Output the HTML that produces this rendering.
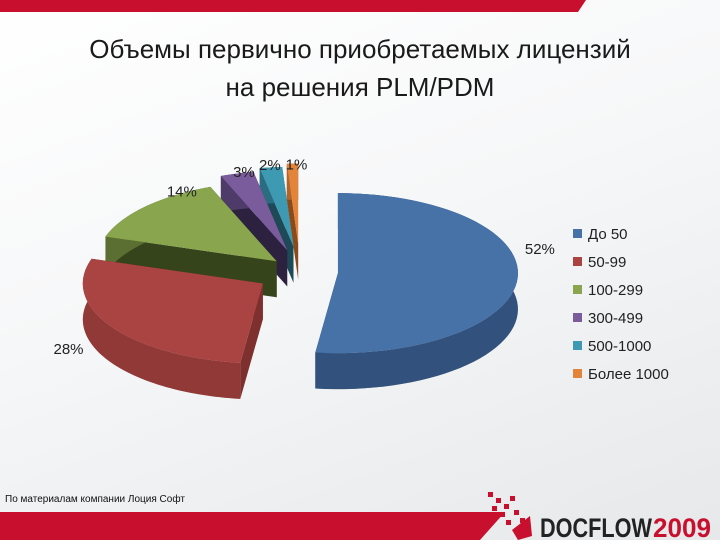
<!DOCTYPE html>
<html><head><meta charset="utf-8">
<style>
html,body{margin:0;padding:0;}
body{width:720px;height:540px;overflow:hidden;position:relative;font-family:"Liberation Sans","Noto Sans CJK SC",sans-serif;background:linear-gradient(160deg,#ffffff 0%,#f6f7f8 45%,#e6e8ea 100%);}
#title{position:absolute;left:0;top:30px;width:720px;text-align:center;font-size:26px;line-height:38px;color:#1a1a1a;}
</style></head><body>
<svg width="720" height="540" style="position:absolute;left:0;top:0">
  <polygon points="0,0 586,0 578,12 0,12" fill="#c8102e"/>
  <polygon points="0,512 505,512 480,540 0,540" fill="#c8102e"/>
  <g>
    <g fill="#c8102e">
      <rect x="488" y="492" width="5" height="5"/><rect x="496" y="498" width="5" height="5"/><rect x="504" y="504" width="5" height="5"/>
      <rect x="492" y="506" width="5" height="5"/><rect x="500" y="512" width="5" height="5"/><rect x="510" y="496" width="5" height="5"/>
      <rect x="514" y="510" width="5" height="5"/><rect x="506" y="520" width="5" height="5"/><rect x="520" y="518" width="5" height="5"/>
      <polygon points="512,530 530,516 532,536 518,540"/>
    </g>
    <text x="540" y="537" font-family="Liberation Sans" font-weight="bold" font-size="27" textLength="112" lengthAdjust="spacingAndGlyphs" fill="#222">DOCFLOW</text>
    <text x="653" y="537" font-family="Liberation Sans" font-weight="bold" font-size="27" textLength="58" lengthAdjust="spacingAndGlyphs" fill="#c8102e">2009</text>
  </g>
  <text x="5" y="502" font-size="10" fill="#111">По материалам компании Лоция Софт</text>
</svg>
<div id="title">Объемы первично приобретаемых лицензий<br>на решения PLM/PDM</div>
<svg id="chart" width="720" height="540" style="position:absolute;left:0;top:0"></svg>
<script>
const categories = ["До 50","50-99","100-299","300-499","500-1000","Более 1000"];
const values = [52,28,14,3,2,1];
const labels = ["52%","28%","14%","3%","2%","1%"];
const topColors = ["#4672a8","#a94442","#89a54d","#7a5c9c","#3e9ab3","#e3843b"];
const sideColors = ["#22395a","#7e302e","#36441c","#2c2240","#1d4a56","#8a4a1c"];

const svg = document.getElementById('chart');
const NS = 'http://www.w3.org/2000/svg';
const cx = 300, cy = 272, rx = 180, ry = 80, depth = 36;
const explode = [38, 44, 32, 46, 52, 58];
const labelNudgeX = [-50, 5, 60, 24, 5, 1];
const labelNudgeY = [0, 0, 0, 35, 35, 38];
const total = values.reduce((a,b)=>a+b,0);
function pt(c, a, r){ return [c[0] + Math.sin(a)*rx*r, c[1] - Math.cos(a)*ry*r]; }
function mk(tag, attrs){ const e=document.createElementNS(NS,tag); for(const k in attrs) e.setAttribute(k,attrs[k]); return e; }

let acc = 0;
const slices = values.map((v,i)=>{ const a0=acc/total*2*Math.PI; acc+=v; const a1=acc/total*2*Math.PI; return {i,a0,a1}; });
const order = [5,4,3,2,0,1];
order.forEach(i=>{
  const s = slices[i];
  const mid = (s.a0+s.a1)/2;
  const c = [cx + Math.sin(mid)*explode[i], cy - Math.cos(mid)*explode[i]*ry/rx*1.1];
  const g = mk('g',{});
  
  
  [s.a0, s.a1].forEach(a=>{
    const p = pt(c,a,1);
    const w = mk('polygon',{points:`${c[0]},${c[1]} ${p[0]},${p[1]} ${p[0]},${p[1]+depth} ${c[0]},${c[1]+depth}`, fill:sideColors[i]});
    g.appendChild(w);
  });
  const n = 60; let top=[], bot=[];
  for(let k=0;k<=n;k++){ const a=s.a0+(s.a1-s.a0)*k/n; const p=pt(c,a,1); top.push(p); bot.push([p[0],p[1]+depth]); }
  const wallPts = top.concat(bot.reverse()).map(p=>p.join(',')).join(' ');
  g.appendChild(mk('polygon',{points:wallPts, fill:sideColors[i], opacity:1}));
  g.appendChild(mk('polygon',{points:wallPts, fill:topColors[i], opacity:0.45}));
  let d = `M${c[0]},${c[1]} `;
  for(let k=0;k<=n;k++){ const a=s.a0+(s.a1-s.a0)*k/n; const p=pt(c,a,1); d+=`L${p[0]},${p[1]} `; }
  d+='Z';
  g.appendChild(mk('path',{d, fill:topColors[i]}));
  svg.appendChild(g);
  const lp = pt(c, mid, 1.18);
  let lx = lp[0], ly = lp[1];
  if(i===0){ lx += 40; ly -= 25; }
  if(i===1){ lx -= 20; ly += 20; }
  if(i>=3){ ly -= 18; lx -= 8 - (i-3)*6; }
  lx += labelNudgeX[i]; ly += labelNudgeY[i];
  const t = mk('text',{x:lx, y:ly, 'font-size':15, fill:'#222', 'text-anchor':'middle'});
  
  
  t.textContent = labels[i];
  svg.appendChild(t);
});

categories.forEach((cat,i)=>{
  const y = 234 + i*28;
  const r = mk('rect',{x:573, y:y-5, width:9, height:9, fill:topColors[i]});
  
  
  svg.appendChild(r);
  const t = mk('text',{x:588, y:y+5, 'font-size':15, fill:'#222'});
  
  
  t.textContent = cat;
  svg.appendChild(t);
});
</script>
</body></html>
